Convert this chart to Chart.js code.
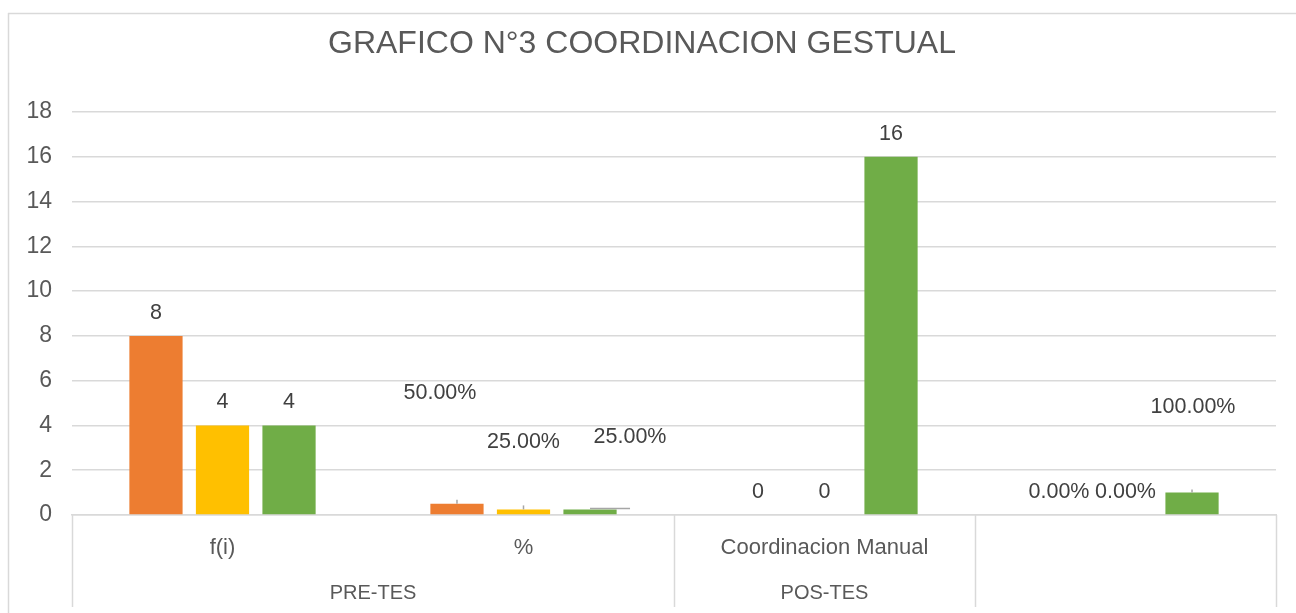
<!DOCTYPE html>
<html><head><meta charset="utf-8">
<script src="https://cdn.jsdelivr.net/npm/chart.js@4.4.0/dist/chart.umd.min.js"></script>
<style>html,body{margin:0;padding:0;background:#fff;} #wrap{width:1296px;height:613px;position:relative;}</style>
</head><body><div id="wrap"><canvas id="c"></canvas></div>
<script>
// ---- data ----
const titleText = 'GRAFICO N°3 COORDINACION GESTUAL';
const categories = ['f(i)', '%', 'Coordinacion Manual', ''];
const groupLabels = ['PRE-TES', 'POS-TES'];
const groupFirst = [0, 2];
const groupLast = [1, 2];
const percentCategory = [false, true, false, true];
const seriesNames = ['Serie 1', 'Serie 2', 'Serie 3'];
const series1 = [8, 0.5, 0, 0];
const series2 = [4, 0.25, 0, 0];
const series3 = [4, 0.25, 16, 1];
const yTicks = [0, 2, 4, 6, 8, 10, 12, 14, 16, 18];

// ---- styles ----
const colors = ['#ED7D31', '#FFC000', '#70AD47'];
const FONT = "'Liberation Sans', Arial, sans-serif";
const gridColor = '#d9d9d9';
// manual label displacements (dataset-index): [dx, dy]
const labelShift = { '0-1': [-17, -88], '1-1': [0, -44], '2-1': [40, -49], '2-3': [1, -63] };
const leaderLines = { '0-1': [[0, 0], [0, -4]], '1-1': [[0, 0], [0, -4]], '2-1': [[0, -1], [40, -1]], '2-3': [[0, 0], [0, -3]] };

function fmt(v, i) {
  return percentCategory[i] ? (v * 100).toFixed(2) + '%' : String(v);
}

const decor = {
  id: 'decor',
  beforeDraw(chart) {
    const ctx = chart.ctx;
    ctx.save();
    ctx.strokeStyle = gridColor; ctx.lineWidth = 1.5;
    ctx.beginPath();
    ctx.moveTo(8, 13.5); ctx.lineTo(chart.width, 13.5);
    ctx.moveTo(8.5, 13); ctx.lineTo(8.5, chart.height);
    ctx.stroke();
    ctx.restore();
  },
  afterDatasetsDraw(chart) {
    const ctx = chart.ctx;
    ctx.save();
    ctx.font = '21.5px ' + FONT;
    ctx.fillStyle = '#404040';
    ctx.textAlign = 'center';
    ctx.textBaseline = 'middle';
    chart.data.datasets.forEach((ds, d) => {
      const meta = chart.getDatasetMeta(d);
      meta.data.forEach((el, i) => {
        const key = d + '-' + i;
        const sh = labelShift[key] || [0, 0];
        if (leaderLines[key]) {
          const L = leaderLines[key];
          ctx.strokeStyle = '#a6a6a6'; ctx.lineWidth = 1.5;
          ctx.beginPath();
          ctx.moveTo(el.x + L[0][0], el.y + L[0][1]);
          ctx.lineTo(el.x + L[1][0], el.y + L[1][1]);
          ctx.stroke();
        }
        ctx.fillText(fmt(ds.data[i], i), el.x + sh[0], el.y - 23 + sh[1]);
      });
    });
    ctx.restore();
  },
  afterDraw(chart) {
    const ctx = chart.ctx;
    const xs = chart.scales.x;
    const half = (xs.getPixelForValue(1) - xs.getPixelForValue(0)) / 2;
    const bottom = 607;
    const lines = [xs.left];
    groupLast.forEach(g => lines.push(xs.getPixelForValue(g) + half));
    lines.push(xs.right);
    ctx.save();
    ctx.strokeStyle = gridColor; ctx.lineWidth = 1.5;
    ctx.beginPath();
    [...new Set(lines.map(v => Math.round(v)))].forEach(x => {
      ctx.moveTo(x + 0.5, xs.top); ctx.lineTo(x + 0.5, bottom);
    });
    ctx.stroke();
    ctx.font = '20px ' + FONT;
    ctx.fillStyle = '#595959';
    ctx.textAlign = 'center';
    ctx.textBaseline = 'middle';
    groupLabels.forEach((lab, g) => {
      const a = xs.getPixelForValue(groupFirst[g]) - half;
      const b = xs.getPixelForValue(groupLast[g]) + half;
      ctx.fillText(lab, (a + b) / 2, 593);
    });
    ctx.restore();
  }
};

new Chart(document.getElementById('c'), {
  type: 'bar',
  data: {
    labels: categories,
    datasets: [series1, series2, series3].map((s, k) => ({
      label: seriesNames[k],
      data: s,
      backgroundColor: colors[k],
      borderWidth: 0,
      barPercentage: 0.8,
      categoryPercentage: 0.663
    }))
  },
  options: {
    responsive: true,
    maintainAspectRatio: false,
    animation: false,
    layout: { padding: { left: 8, right: 20, top: 0, bottom: 0 } },
    plugins: {
      legend: { display: false },
      tooltip: { enabled: false },
      title: {
        display: true,
        text: titleText,
        color: '#595959',
        font: { family: FONT, size: 32, weight: 'normal' },
        padding: { top: 25, bottom: 48.6 }
      }
    },
    scales: {
      x: {
        grid: { display: false },
        border: { display: true, color: gridColor, width: 1.5 },
        ticks: { color: '#595959', font: { family: FONT, size: 22 }, padding: 12, maxRotation: 0, autoSkip: false },
        afterFit(scale) { scale.height = 98; }
      },
      y: {
        min: yTicks[0],
        max: yTicks[yTicks.length - 1],
        ticks: { stepSize: yTicks[1] - yTicks[0], color: '#595959', font: { family: FONT, size: 23 }, padding: 20 },
        grid: { color: gridColor, lineWidth: 1.5, drawTicks: false },
        border: { display: false },
        afterFit(scale) { scale.width = 64; }
      }
    }
  },
  plugins: [decor]
});
</script>
</body></html>
